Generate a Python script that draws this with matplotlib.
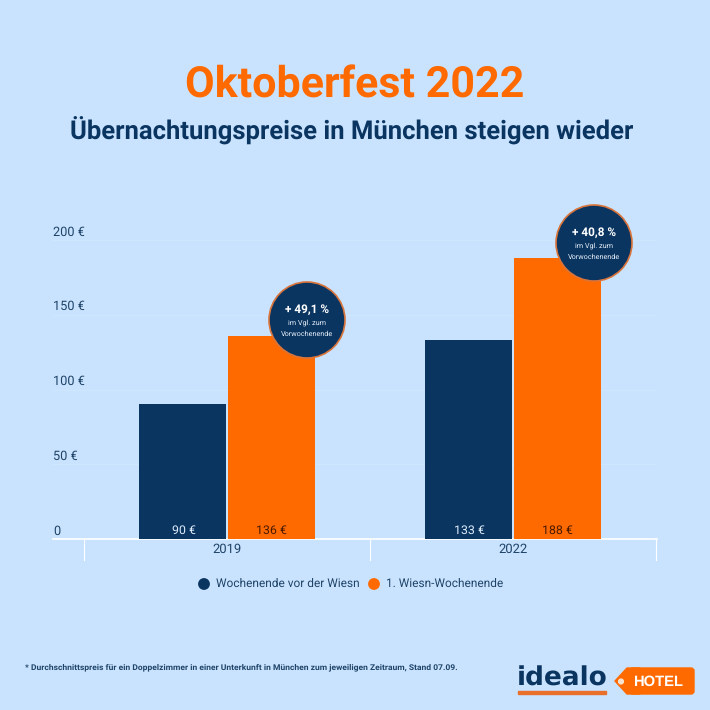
import matplotlib
matplotlib.use("Agg")
import matplotlib.pyplot as plt
from matplotlib.patches import Circle, Polygon, Rectangle, FancyBboxPatch
from matplotlib.transforms import Affine2D

plt.rcParams['font.family'] = ['Roboto', 'DejaVu Sans']
plt.rcParams['text.hinting'] = 'no_hinting'
plt.rcParams['text.hinting_factor'] = 8

years = ["2019", "2022"]
vor_wiesn = [90, 133]
wiesn = [136, 188]
bar_labels_vor = ["90 €", "133 €"]
bar_labels_wiesn = ["136 €", "188 €"]
y_ticks = [0, 50, 100, 150, 200]
y_tick_labels = ["0", "50 €", "100 €", "150 €", "200 €"]
legend_labels = ["Wochenende vor der Wiesn", "1. Wiesn-Wochenende"]
badge_main = ["+ 49,1 %", "+ 40,8 %"]

BG = "#C9E3FF"
NAVY = "#0B3561"
ORANGE = "#FF6A00"
W = H = 710

fig = plt.figure(figsize=(W / 100, H / 100), dpi=100, facecolor=BG)
px = Affine2D().scale(1 / W, -1 / H).translate(0, 1) + fig.transFigure


def T(x, y, s, **kw):
    kw.setdefault("ha", "center")
    kw.setdefault("va", "center")
    kw.setdefault("color", NAVY)
    return fig.text(x / W, 1 - y / H, s, **kw)


# axes: x 53..657 px, baseline at 539 px, 0..200 spans 299 px
ax = fig.add_axes([53 / W, 1 - 539 / H, 604 / W, 330 / H], facecolor="none")
ax.set_xlim(-174 / 286, 1 + 144 / 286)
ax.set_ylim(0, 330 / 1.495)
for s in ax.spines.values():
    s.set_visible(False)
ax.set_xticks([])
ax.set_yticks([])

for v in y_ticks[1:]:
    ax.axhline(v, color="#CFE6FF", lw=0.8, zorder=0)
ax.axhline(0, color="white", lw=1.2, zorder=1, clip_on=False)

bw = 87 / 286
off = 44.5 / 286
for i in range(len(years)):
    ax.bar(i - off, vor_wiesn[i], bw, color=NAVY, zorder=2)
    ax.bar(i + off, wiesn[i], bw, color=ORANGE, zorder=2)
    ax.text(i - off + 0.005, 5.6, bar_labels_vor[i], color="#DCEBFA", fontsize=8.9, ha="center", va="center", zorder=3)
    ax.text(i + off, 5.6, bar_labels_wiesn[i], color="#4A1A00", fontsize=8.9, ha="center", va="center", zorder=3)
    T(227 + 286 * i, 549.5, years[i], fontsize=9.4, color="#1F4468")

for t, lab in zip(y_ticks, y_tick_labels):
    T(53, 531 - t * 1.495, lab, ha="left", fontsize=9.2, color="#1F4468")

for x in (84, 370, 656):
    fig.add_artist(plt.Line2D([x / W, x / W], [1 - 539 / H, 1 - 560 / H], color="white", lw=0.8))

T(355, 86, "Oktoberfest 2022", color=ORANGE, fontsize=31, fontweight="bold")
T(352, 131, "Übernachtungspreise in München steigen wieder", fontsize=18.47, fontweight="bold")

# legend
for x, c, lab in zip((204, 374), (NAVY, ORANGE), legend_labels):
    fig.add_artist(Circle((x, 584), 5.2, color=c, transform=px))
    T(x + 12, 584, lab, ha="left", fontsize=8.6, color="#1F4468")

# badges
for (cx, cy), main in zip(((307, 320), (594, 243)), badge_main):
    fig.add_artist(Circle((cx, cy), 38, facecolor=NAVY, edgecolor="#D9743A", lw=1.2, transform=px, zorder=5))
    T(cx, cy - 10, main, color="white", fontsize=8.5, fontweight="bold", zorder=6)
    T(cx, cy + 3, "im Vgl. zum", color="#E4EEF8", fontsize=5.2, zorder=6)
    T(cx, cy + 14, "Vorwochenende", color="#E4EEF8", fontsize=5.2, zorder=6)

T(25, 667, "* Durchschnittspreis für ein Doppelzimmer in einer Unterkunft in München zum jeweiligen Zeitraum, Stand 07.09.",
  ha="left", fontsize=6.1, fontweight="bold", color="#1F4468")

# logo
T(517, 678, "idealo", ha="left", fontsize=19, fontweight="bold", family=["DejaVu Sans"])
fig.add_artist(Rectangle((518, 691), 88, 3.2, color="#E8702A", transform=px))
fig.add_artist(Polygon([(615, 681), (627, 668), (640, 668), (640, 694), (627, 694)], closed=True, color=ORANGE, transform=px))
fig.add_artist(FancyBboxPatch((630, 668), 64, 26, boxstyle="round,pad=0,rounding_size=3", color=ORANGE, transform=px))
fig.add_artist(Circle((621, 681.5), 2.4, color="#F5E3D0", transform=px))
T(633, 681.5, "HOTEL", ha="left", color="white", fontsize=10.6, fontweight="bold", family=["Liberation Sans"])

fig.savefig("out.png", dpi=100, facecolor=BG)
